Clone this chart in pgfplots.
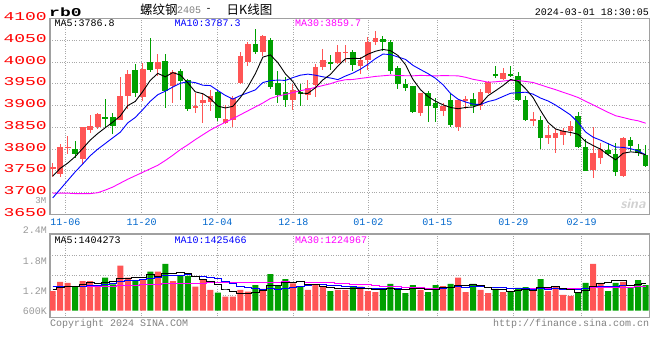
\documentclass[border=0pt]{standalone}
\usepackage{fontspec}
\usepackage{graphicx}
\usepackage{pgfplots}
\usepackage{pgfplotstable}
\pgfplotsset{compat=1.18}
\newfontfamily\mono{Liberation Mono}
\newfontfamily\cjk{Noto Sans CJK SC}
\definecolor{cred}{HTML}{FF5555}
\definecolor{cgreen}{HTML}{00A000}
\definecolor{cframe}{HTML}{A0A0A0}
\definecolor{cgrid}{HTML}{A8A8A8}
\definecolor{cdate}{HTML}{0066CC}
\definecolor{cgray}{HTML}{999999}
\definecolor{cmag}{HTML}{FF00FF}
\newcommand\wide[1]{\scalebox{1.5}[1]{#1}}

% rising (red) candles: index, open, high, low, close, volume (M)
\pgfplotstableread{
k o h l c v
0 3755 3768 3735 3758 1.01
1 3744 3811 3735 3805 1.49
2 3803 3831 3788 3805 1.43
4 3778 3851 3766 3850 1.53
5 3844 3878 3836 3854 1.53
6 3850 3884 3847 3881 1.32
9 3866 3965 3866 3921 2.32
10 3921 3981 3892 3973 1.70
12 3920 3998 3910 3985 1.63
14 3984 4018 3968 4001 2.01
16 3944 3981 3905 3977 1.53
19 3895 3928 3884 3898 1.24
20 3905 3930 3860 3913 1.63
21 3909 3937 3887 3921 1.07
23 3861 3902 3858 3870 0.72
24 3866 3922 3851 3917 0.72
25 3952 4023 3950 4014 1.07
26 4000 4047 3990 4042 0.98
28 4022 4063 4015 4060 1.12
32 3912 3950 3890 3935 1.41
34 3925 3958 3913 3941 1.07
35 3948 3995 3920 3989 1.32
36 3988 4030 3981 4005 1.27
38 3999 4040 3996 4023 1.07
39 4021 4039 3999 4024 1.07
41 3991 4012 3972 4004 1.24
42 4004 4058 3981 4047 1.01
43 4047 4071 4040 4056 0.96
49 3882 3930 3876 3928 1.07
52 3888 3907 3877 3900 1.27
54 3850 3915 3841 3913 1.70
55 3911 3921 3893 3915 0.96
57 3900 3938 3890 3932 1.07
58 3928 3956 3926 3954 0.91
60 3962 3987 3958 3975 0.96
64 3866 3885 3854 3868 1.01
66 3825 3856 3813 3833 1.01
67 3825 3846 3792 3838 1.27
68 3833 3848 3810 3842 0.81
69 3841 3865 3831 3854 0.76
72 3752 3850 3733 3792 2.41
73 3779 3815 3767 3800 1.43
76 3738 3828 3736 3825 1.48
}\redtab

% falling (green) candles
\pgfplotstableread{
k o h l c v
3 3801 3819 3779 3790 1.24
7 3874 3916 3850 3871 1.70
8 3875 3882 3834 3854 1.35
11 3982 3996 3919 3929 1.58
13 4001 4055 3978 3982 2.01
15 4003 4018 3895 3934 2.41
17 3980 3983 3913 3957 1.79
18 3958 3962 3888 3892 1.79
22 3931 3935 3865 3871 0.93
27 4041 4075 4018 4024 1.32
29 4051 4055 3938 3942 1.89
30 3953 3980 3905 3925 1.27
31 3931 3965 3897 3914 1.63
33 3931 3950 3900 3926 1.27
37 4000 4016 3982 3997 1.01
40 4023 4027 3980 3993 1.27
44 4052 4060 4025 4045 1.07
45 4047 4050 3972 3979 1.38
46 3987 3991 3939 3949 1.15
47 3950 3960 3934 3941 0.91
48 3944 3946 3884 3886 1.32
50 3928 3934 3862 3900 0.96
51 3907 3917 3863 3895 1.32
53 3913 3927 3852 3856 1.38
56 3915 3928 3882 3900 1.38
59 3972 3990 3963 3970 1.12
61 3973 3992 3966 3969 0.96
62 3969 3977 3910 3912 1.17
63 3912 3921 3865 3868 1.22
65 3868 3877 3800 3825 1.63
70 3877 3885 3802 3804 0.96
71 3806 3823 3750 3750 1.43
74 3799 3815 3786 3788 1.01
75 3790 3815 3738 3748 1.43
77 3822 3827 3796 3808 1.17
78 3800 3812 3784 3792 1.58
79 3787 3810 3760 3762 1.32
}\greentab

% moving averages: price MA5/10/30, volume MA5/10/30 (M)
\pgfplotstableread{
k ma5 ma10 ma30 vma5 vma10 vma30
0 3738 3688 3699 1.12 1.24 1.27
1 3756 3708 3699 1.20 1.24 1.27
2 3768 3728 3699 1.24 1.24 1.27
3 3783 3748 3698 1.27 1.25 1.27
4 3801.6 3766 3698 1.340 1.26 1.27
5 3820.8 3785 3698 1.444 1.29 1.27
6 3836.0 3800 3700 1.410 1.32 1.27
7 3849.2 3813 3706 1.464 1.36 1.27
8 3862.0 3826 3713 1.486 1.42 1.27
9 3876.2 3838.9 3722 1.644 1.492 1.28
10 3900.0 3860.4 3731 1.678 1.561 1.30
11 3909.6 3872.8 3739 1.730 1.570 1.32
12 3932.4 3890.8 3747 1.716 1.590 1.33
13 3958.0 3910.0 3755 1.848 1.667 1.35
14 3974.0 3925.1 3763 1.786 1.715 1.36
15 3966.2 3933.1 3774 1.928 1.803 1.38
16 3975.8 3942.7 3786 1.918 1.824 1.39
17 3970.2 3951.3 3799 1.950 1.833 1.40
18 3952.2 3955.1 3810 1.906 1.877 1.41
19 3931.6 3952.8 3822 1.752 1.769 1.42
20 3927.4 3946.8 3833 1.596 1.762 1.42
21 3916.2 3946.0 3844 1.504 1.711 1.43
22 3899.0 3934.6 3853 1.332 1.641 1.43
23 3894.6 3923.4 3862 1.118 1.512 1.44
24 3898.4 3915.0 3870 1.014 1.383 1.44
25 3918.6 3923.0 3879 0.902 1.249 1.45
26 3942.8 3929.5 3888 0.884 1.194 1.45
27 3973.4 3936.2 3897 0.962 1.147 1.46
28 4011.4 3953.0 3906 1.042 1.080 1.46
29 4016.4 3957.4 3916.4 1.276 1.145 1.469
30 3998.6 3958.6 3921.9 1.316 1.109 1.477
31 3973.0 3957.9 3925.6 1.446 1.165 1.482
32 3955.2 3964.3 3929.9 1.464 1.213 1.481
33 3928.4 3969.9 3934.4 1.494 1.268 1.482
34 3928.2 3972.3 3937.5 1.330 1.303 1.467
35 3941.0 3969.8 3942.0 1.340 1.328 1.460
36 3959.2 3966.1 3946.1 1.268 1.357 1.458
37 3971.6 3963.4 3950.3 1.188 1.326 1.435
38 3991.0 3959.7 3955.9 1.148 1.321 1.426
39 4007.6 3967.9 3959.4 1.148 1.239 1.384
40 4008.4 3974.7 3960.0 1.138 1.239 1.370
41 4008.2 3983.7 3962.5 1.132 1.200 1.359
42 4018.2 3994.9 3964.6 1.132 1.160 1.338
43 4024.8 4007.9 3967.1 1.110 1.129 1.303
44 4029.0 4018.3 3968.5 1.110 1.129 1.272
45 4026.2 4017.3 3970.0 1.132 1.135 1.237
46 4015.2 4011.7 3969.1 1.114 1.123 1.225
47 3994.0 4006.1 3968.6 1.094 1.113 1.195
48 3960.0 3992.4 3968.4 1.166 1.138 1.180
49 3936.6 3982.8 3969.4 1.166 1.138 1.174
50 3920.8 3973.5 3968.9 1.082 1.107 1.152
51 3910.0 3962.6 3968.1 1.116 1.115 1.160
52 3901.8 3947.9 3969.0 1.188 1.141 1.171
53 3895.8 3927.9 3968.6 1.200 1.183 1.193
54 3892.8 3914.7 3968.4 1.326 1.246 1.226
55 3895.8 3908.3 3965.1 1.326 1.204 1.222
56 3896.8 3903.4 3960.4 1.338 1.227 1.236
57 3903.2 3902.5 3957.3 1.298 1.243 1.227
58 3922.8 3909.3 3953.8 1.204 1.202 1.220
59 3934.2 3913.5 3954.7 1.088 1.207 1.195
60 3946.2 3921.0 3956.4 1.088 1.207 1.184
61 3960.0 3928.4 3958.2 1.004 1.171 1.162
62 3956.0 3929.6 3957.5 1.024 1.161 1.154
63 3938.8 3930.8 3955.5 1.086 1.145 1.152
64 3918.4 3926.3 3953.1 1.064 1.076 1.150
65 3888.4 3917.3 3947.6 1.198 1.143 1.161
66 3861.2 3910.6 3941.9 1.208 1.106 1.152
67 3846.4 3901.2 3936.6 1.228 1.126 1.161
68 3841.2 3890.0 3930.6 1.146 1.116 1.152
69 3838.4 3878.4 3924.9 1.096 1.080 1.142
70 3834.2 3861.3 3918.6 0.962 1.080 1.131
71 3817.6 3839.4 3910.1 1.046 1.127 1.138
72 3808.4 3827.4 3901.6 1.274 1.251 1.184
73 3800.0 3820.6 3893.1 1.398 1.272 1.200
74 3786.8 3812.6 3884.5 1.448 1.272 1.198
75 3775.6 3804.9 3876.8 1.542 1.252 1.200
76 3790.6 3804.1 3872.7 1.552 1.299 1.211
77 3793.8 3801.1 3868.3 1.304 1.289 1.219
78 3792.2 3796.1 3865.1 1.334 1.366 1.228
79 3787.0 3786.9 3859.6 1.396 1.422 1.236
}\matab

\pgfplotsset{
  kchart/.style={
    scale only axis, anchor=south west,
    xmin=-0.36, xmax=79.51,
    axis line style={cframe, line width=1.2pt},
    xtick={1.68,11.86,21.93,32.05,42.05,51.24,61.36,70.48},
    major tick length=0pt,
    major grid style={cgrid, dotted, line width=1pt},
  },
  wick/.style={draw=none, mark=none, error bars/.cd, y dir=both, y explicit, error mark=none, error bar style={draw=#1, line width=1pt, solid}},
  body/.style={draw=none, mark=none, error bars/.cd, y dir=both, y explicit, error mark=none, error bar style={draw=#1, line width=5.6pt, solid}},
}

\begin{document}
\begin{tikzpicture}[x=1pt,y=1pt]
\path[use as bounding box] (0,0) rectangle (660,360);

% ---------- price panel ----------
\begin{axis}[kchart,
  at={(50pt,145.5pt)}, width=599.5pt, height=196pt,
  ymin=3650, ymax=4100,
  xticklabels={11-06,11-20,12-04,12-18,01-02,01-15,01-29,02-19},
  xticklabel style={font=\mono\fontsize{10}{10}\selectfont, text=cdate, inner sep=0pt, anchor=north, yshift=-4pt},
  ytick={3650,3700,3750,3800,3850,3900,3950,4000,4050,4100},
  yticklabels={\wide{3650},\wide{3700},\wide{3750},\wide{3800},\wide{3850},\wide{3900},\wide{3950},\wide{4000},\wide{4050},\wide{4100}},
  yticklabel style={font=\mono\fontsize{12}{12}\selectfont, text=red, inner sep=0pt, anchor=east, xshift=-3pt, yshift=2pt},
  grid=major,
]
\addplot[wick=cred] table[x=k, y expr={(\thisrow{h}+\thisrow{l})/2}, y error expr={(\thisrow{h}-\thisrow{l})/2}] \redtab;
\addplot[body=cred] table[x=k, y expr={(\thisrow{o}+\thisrow{c})/2}, y error expr={max(abs(\thisrow{c}-\thisrow{o})/2,1.2)}] \redtab;
\addplot[wick=cgreen] table[x=k, y expr={(\thisrow{h}+\thisrow{l})/2}, y error expr={(\thisrow{h}-\thisrow{l})/2}] \greentab;
\addplot[body=cgreen] table[x=k, y expr={(\thisrow{o}+\thisrow{c})/2}, y error expr={max(abs(\thisrow{c}-\thisrow{o})/2,1.2)}] \greentab;
\addplot[cmag, line width=0.9pt, mark=none] table[x=k, y=ma30] \matab;
\addplot[blue, line width=0.9pt, mark=none] table[x=k, y=ma10] \matab;
\addplot[black, line width=0.9pt, mark=none] table[x=k, y=ma5] \matab;
\end{axis}

% ---------- volume panel ----------
\begin{axis}[kchart,
  at={(50pt,42.3pt)}, width=599.5pt, height=83.7pt,
  ymin=-0.36, ymax=3.95,
  xticklabels={},
  xmajorgrids=true,
  ytick={-0.015,1.015,2.575},
  yticklabels={600K,1.2M,1.8M},
  yticklabel style={font=\mono\fontsize{10}{10}\selectfont, text=cgray, inner sep=0pt, anchor=east, xshift=-3pt},
  extra y ticks={0.793,1.823,2.853},
  extra y tick labels={},
  extra y tick style={grid=major},
]
\addplot[ybar, bar width=6pt, bar shift=0pt, fill=cred, draw=none] table[x=k, y=v] \redtab;
\addplot[ybar, bar width=6pt, bar shift=0pt, fill=cgreen, draw=none] table[x=k, y=v] \greentab;
\addplot[cmag, line width=0.9pt, mark=none, const plot mark mid] table[x=k, y=vma30] \matab;
\addplot[blue, line width=0.9pt, mark=none, const plot mark mid] table[x=k, y=vma10] \matab;
\addplot[black, line width=0.9pt, mark=none, const plot mark mid] table[x=k, y=vma5] \matab;
\end{axis}

% ---------- texts ----------
\node[anchor=west, inner sep=0pt, font=\mono\bfseries\fontsize{12}{12}\selectfont] at (49,348) {\wide{rb0}};
\node[anchor=west, inner sep=0pt, font=\cjk\fontsize{12.5}{12.5}\selectfont] at (140,350.5) {螺纹钢};
\node[anchor=west, inner sep=0pt, font=\mono\fontsize{10}{10}\selectfont, text=gray] at (177,350) {2405};
\node[inner sep=0pt, font=\mono\fontsize{10}{10}\selectfont] at (208.5,350.5) {-};
\node[anchor=west, inner sep=0pt, font=\cjk\fontsize{12.5}{12.5}\selectfont] at (226.5,350.5) {日K线图};
\node[anchor=east, inner sep=0pt, font=\mono\fontsize{10}{10}\selectfont] at (649,347.8) {2024-03-01 18:30:05};

\node[anchor=west, inner sep=0pt, font=\mono\fontsize{10}{10}\selectfont] at (54.3,336.3) {MA5:3786.8};
\node[anchor=west, inner sep=0pt, font=\mono\fontsize{10}{10}\selectfont, text=blue] at (174.3,336.3) {MA10:3787.3};
\node[anchor=west, inner sep=0pt, font=\mono\fontsize{10}{10}\selectfont, text=cmag] at (295,336.3) {MA30:3859.7};

\node[anchor=east, inner sep=0pt, font=\mono\fontsize{9}{9}\selectfont, text=cgray] at (46.5,159.3) {3M};
\node[anchor=east, inner sep=0pt, font=\mono\fontsize{10}{10}\selectfont, text=cgray] at (47,130) {2.4M};

\node[anchor=west, inner sep=0pt, font=\mono\fontsize{10}{10}\selectfont] at (54.3,119.5) {MA5:1404273};
\node[anchor=west, inner sep=0pt, font=\mono\fontsize{10}{10}\selectfont, text=blue] at (174.3,119.5) {MA10:1425466};
\node[anchor=west, inner sep=0pt, font=\mono\fontsize{10}{10}\selectfont, text=cmag] at (295,119.5) {MA30:1224967};

\node[anchor=west, inner sep=0pt, font=\mono\fontsize{10}{10}\selectfont, text=gray] at (50,36.3) {Copyright 2024 SINA.COM};
\node[anchor=east, inner sep=0pt, font=\mono\fontsize{10}{10}\selectfont, text=gray] at (649.3,36.3) {http://finance.sina.com.cn};

\node[inner sep=0pt, text=black!18, font=\sffamily\bfseries\itshape\fontsize{14}{14}\selectfont] at (633,156) {sina};
\end{tikzpicture}
\end{document}
